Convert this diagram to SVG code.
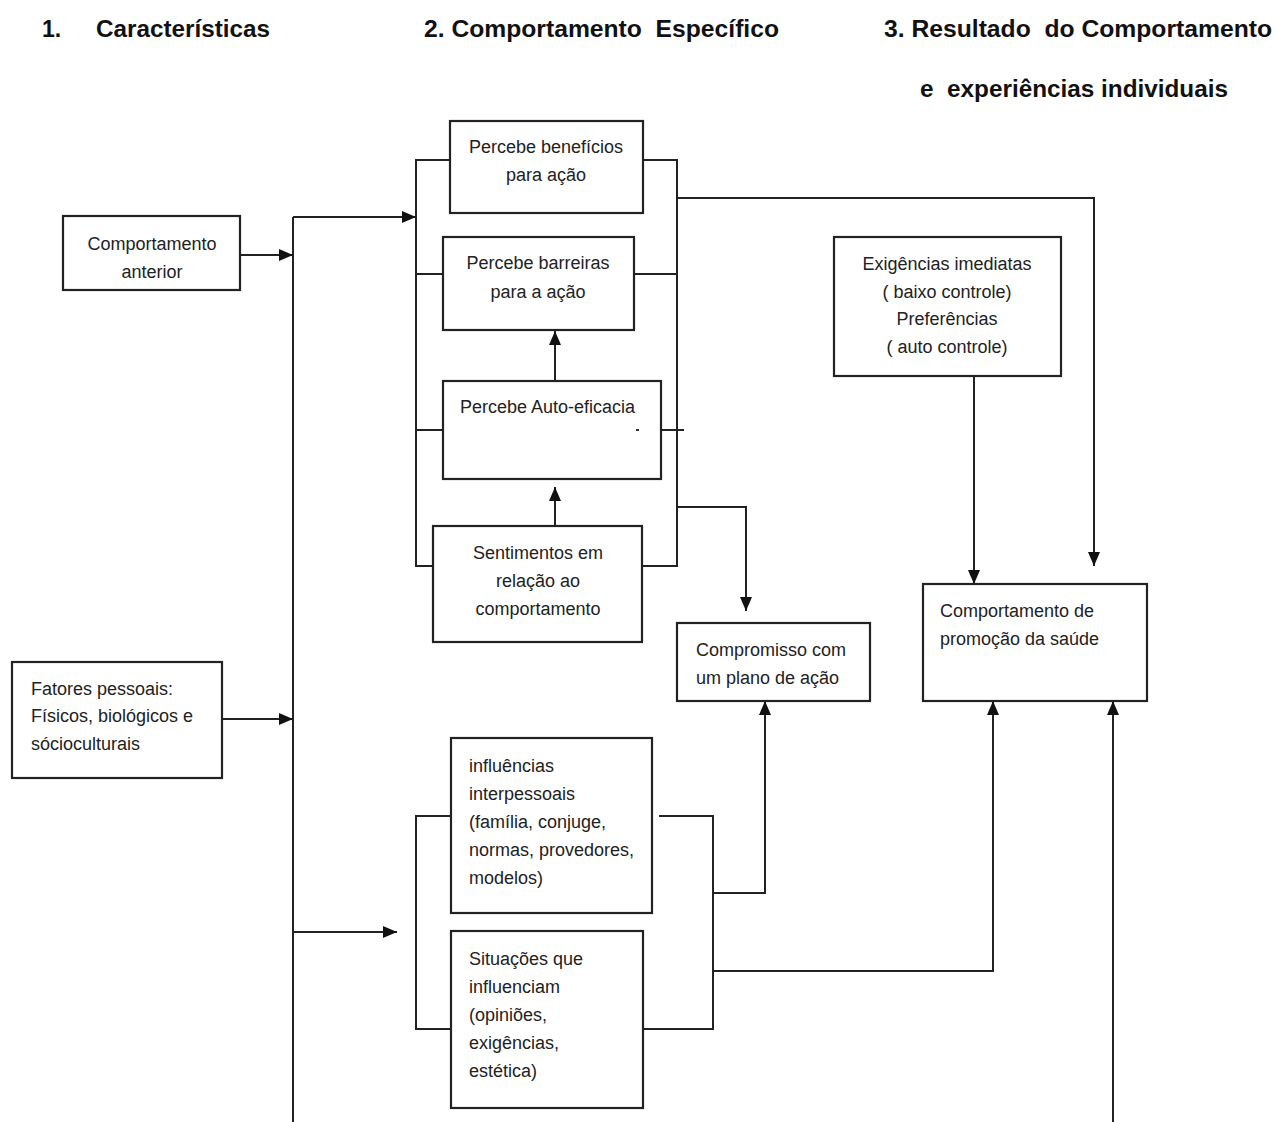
<svg xmlns="http://www.w3.org/2000/svg" width="1278" height="1122" viewBox="0 0 1278 1122">
<style>
  .hdr { font-family: "Liberation Sans", Arial, sans-serif; font-weight: bold; font-size: 23px; fill: #111; white-space: pre; }
  .lbl { font-family: "Liberation Sans", Arial, sans-serif; font-size: 18px; fill: #222; }
  .c { text-anchor: middle; }
  .box { fill: #fff; stroke: #222; stroke-width: 2.2; }
  .ln { fill: none; stroke: #222; stroke-width: 2; }
  .ar { fill: none; stroke: #222; stroke-width: 2; marker-end: url(#ah); }
</style>
<defs>
  <marker id="ah" viewBox="0 0 14 12" refX="14" refY="6" markerWidth="14" markerHeight="12" markerUnits="userSpaceOnUse" orient="auto">
    <path d="M0,0 L14,6 L0,12 Z" fill="#111"/>
  </marker>
</defs>
<rect width="1278" height="1122" fill="#fff"/>

<g id="headers">
  <text class="hdr" x="42" y="37">1.</text>
  <text class="hdr" x="96" y="37" textLength="174" lengthAdjust="spacingAndGlyphs">Características</text>
  <text class="hdr" x="424" y="37" textLength="355" lengthAdjust="spacingAndGlyphs">2. Comportamento  Específico</text>
  <text class="hdr" x="884" y="37" textLength="388" lengthAdjust="spacingAndGlyphs">3. Resultado  do Comportamento</text>
  <text class="hdr" x="920" y="97" textLength="308" lengthAdjust="spacingAndGlyphs">e  experiências individuais</text>
</g>

<g id="connectors">
  <!-- main bus -->
  <path class="ln" d="M293,217 V1122"/>
  <path class="ar" d="M241,255 H293"/>
  <path class="ar" d="M222,719 H293"/>
  <path class="ar" d="M293,217 H416"/>
  <path class="ar" d="M293,932 H397"/>
  <!-- upper bracket -->
  <path class="ln" d="M450,160 H416 V566 H433"/>
  <path class="ln" d="M643,160 H677 V566 H642"/>
  <path class="ln" d="M416,274 H443"/>
  <path class="ln" d="M634,274 H677"/>
  <path class="ln" d="M416,430 H443"/>
  <path class="ln" d="M661,430 H684"/>
  <!-- vertical arrows between boxes -->
  <path class="ar" d="M555,381 V331"/>
  <path class="ar" d="M555,526 V487"/>
  <!-- to compromisso -->
  <path class="ar" d="M677,507 H746 V611"/>
  <!-- to promoção from top -->
  <path class="ar" d="M677,198 H1094 V566"/>
  <path class="ar" d="M974,376 V584"/>
  <!-- lower bracket -->
  <path class="ln" d="M451,816 H416 V1029 H451"/>
  <path class="ln" d="M659,816 H713 V1029 H643"/>
  <path class="ar" d="M713,893 H765 V701"/>
  <path class="ar" d="M713,971 H993 V701"/>
  <path class="ar" d="M1113,1122 V701"/>
</g>

<g id="n-anterior">
  <rect class="box" x="63" y="216" width="177" height="74"/>
  <text class="lbl c" x="152" y="250">Comportamento</text>
  <text class="lbl c" x="152" y="278">anterior</text>
</g>

<g id="n-fatores">
  <rect class="box" x="12" y="662" width="210" height="116"/>
  <text class="lbl" x="31" y="695">Fatores pessoais:</text>
  <text class="lbl" x="31" y="722">Físicos, biológicos e</text>
  <text class="lbl" x="31" y="750">sócioculturais</text>
</g>

<g id="n-beneficios">
  <rect class="box" x="450" y="121" width="193" height="92"/>
  <text class="lbl c" x="546" y="153">Percebe benefícios</text>
  <text class="lbl c" x="546" y="181">para ação</text>
</g>

<g id="n-barreiras">
  <rect class="box" x="443" y="237" width="191" height="93"/>
  <text class="lbl c" x="538" y="269">Percebe barreiras</text>
  <text class="lbl c" x="538" y="298">para a ação</text>
</g>

<g id="n-autoeficacia">
  <rect class="box" x="443" y="381" width="218" height="98"/>
  <text class="lbl" x="460" y="413">Percebe Auto-eficacia</text>
  <rect x="636" y="429" width="3" height="2" fill="#333"/>
</g>

<g id="n-sentimentos">
  <rect class="box" x="433" y="526" width="209" height="116"/>
  <text class="lbl c" x="538" y="559">Sentimentos em</text>
  <text class="lbl c" x="538" y="587">relação ao</text>
  <text class="lbl c" x="538" y="615">comportamento</text>
</g>

<g id="n-compromisso">
  <rect class="box" x="677" y="623" width="193" height="78"/>
  <text class="lbl" x="696" y="656">Compromisso com</text>
  <text class="lbl" x="696" y="684">um plano de ação</text>
</g>

<g id="n-exigencias">
  <rect class="box" x="834" y="237" width="227" height="139"/>
  <text class="lbl c" x="947" y="270">Exigências imediatas</text>
  <text class="lbl c" x="947" y="298">( baixo controle)</text>
  <text class="lbl c" x="947" y="325">Preferências</text>
  <text class="lbl c" x="947" y="353">( auto controle)</text>
</g>

<g id="n-promocao">
  <rect class="box" x="923" y="584" width="224" height="117"/>
  <text class="lbl" x="940" y="617">Comportamento de</text>
  <text class="lbl" x="940" y="645">promoção da saúde</text>
</g>

<g id="n-influencias">
  <rect class="box" x="451" y="738" width="201" height="175"/>
  <text class="lbl" x="469" y="772">influências</text>
  <text class="lbl" x="469" y="800">interpessoais</text>
  <text class="lbl" x="469" y="828">(família, conjuge,</text>
  <text class="lbl" x="469" y="856">normas, provedores,</text>
  <text class="lbl" x="469" y="884">modelos)</text>
</g>

<g id="n-situacoes">
  <rect class="box" x="451" y="931" width="192" height="177"/>
  <text class="lbl" x="469" y="965">Situações que</text>
  <text class="lbl" x="469" y="993">influenciam</text>
  <text class="lbl" x="469" y="1021">(opiniões,</text>
  <text class="lbl" x="469" y="1049">exigências,</text>
  <text class="lbl" x="469" y="1077">estética)</text>
</g>
</svg>
